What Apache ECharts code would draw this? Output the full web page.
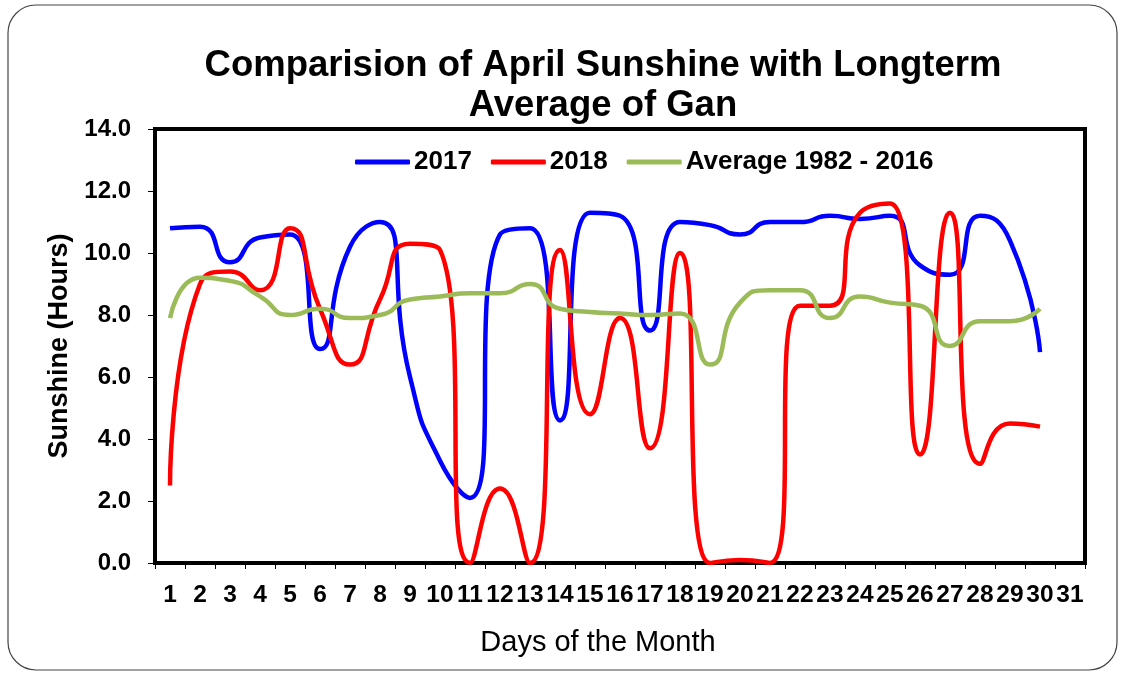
<!DOCTYPE html>
<html>
<head>
<meta charset="utf-8">
<title>April Sunshine - Gan</title>
<script src="https://cdn.jsdelivr.net/npm/echarts@6/dist/echarts.min.js"></script>
<style>
  html, body { margin: 0; padding: 0; background: #fff; }
  #chart { width: 1121px; height: 675px; }
</style>
</head>
<body>
<div id="chart"></div>
<script>
// days of the month (axis runs to 31, data only to 30)
const days = ['1','2','3','4','5','6','7','8','9','10','11','12','13','14','15','16','17','18','19','20','21','22','23','24','25','26','27','28','29','30','31']

const sun2017 = [10.8, 10.85, 9.7, 10.5, 10.6, 6.9, 10.2, 11.0, 6.0, 3.3, 2.1, 10.6, 10.8, 4.6, 11.3, 11.2, 7.5, 11.0, 10.9, 10.6, 11.0, 11.0, 11.2, 11.1, 11.2, 9.6, 9.3, 11.2, 10.4, 6.8]
const sun2018 = [2.5, 9.0, 9.4, 8.8, 10.8, 8.2, 6.4, 8.5, 10.3, 10.1, 0.0, 2.4, 0.0, 10.1, 4.8, 7.9, 3.7, 10.0, 0.0, 0.1, 0.0, 8.3, 8.3, 11.3, 11.6, 3.5, 11.3, 3.2, 4.5, 4.4]
const avg8216 = [7.9, 9.2, 9.1, 8.6, 8.0, 8.2, 7.9, 8.0, 8.5, 8.6, 8.7, 8.7, 9.0, 8.2, 8.1, 8.05, 8.0, 8.05, 6.4, 8.4, 8.8, 8.8, 7.9, 8.6, 8.4, 8.3, 7.0, 7.8, 7.8, 8.2]

const yTicks = [0, 2, 4, 6, 8, 10, 12, 14]

const font = 'Liberation Sans, Arial, sans-serif'

const chart = echarts.init(document.getElementById('chart'))

const line = (name, data, color) => ({
    name,
    type: 'line',
    data,
    smooth: 0.6,
    symbol: 'none',
    lineStyle: { color, width: 4.5 },
    itemStyle: { color },
})

chart.setOption({
    animation: false,
    graphic: [
        {
            type: 'rect',
            shape: { x: 8, y: 5, width: 1109, height: 665, r: 28 },
            style: { fill: 'none', stroke: '#444', lineWidth: 1.2 },
            silent: true,
        },
    ],
    title: {
        text: 'Comparision of April Sunshine with Longterm\nAverage of Gan',
        left: 598,
        top: 41,
        textAlign: 'center',
        textStyle: {
            fontFamily: font,
            fontWeight: 'bold',
            fontSize: 36.5,
            lineHeight: 40,
            color: '#000',
        },
    },
    legend: {
        left: 350,
        top: 144,
        icon: 'roundRect',
        itemWidth: 55,
        itemHeight: 5,
        itemGap: 19,
        textStyle: { fontFamily: font, fontWeight: 'bold', fontSize: 26, color: '#000', padding: [0, 0, 0, -1] },
        data: ['2017', '2018', 'Average 1982 - 2016'],
    },
    grid: {
        left: 155,
        right: 36,
        top: 129,
        bottom: 112,
        show: true,
        borderColor: '#000',
        borderWidth: 4,
        backgroundColor: '#fff',
    },
    xAxis: {
        type: 'category',
        data: days,
        boundaryGap: true,
        name: 'Days of the Month',
        nameLocation: 'middle',
        nameGap: 65,
        nameTextStyle: { fontFamily: font, fontSize: 29, color: '#000', padding: [0, 44, 0, 0] },
        axisLine: { lineStyle: { color: '#000', width: 4 } },
        axisTick: { show: true, length: 6, inside: false, lineStyle: { color: '#000', width: 1 }, interval: 0 },
        axisLabel: { interval: 0, fontFamily: font, fontWeight: 'bold', fontSize: 24.5, color: '#000', margin: 20 },
        splitLine: { show: false },
    },
    yAxis: {
        type: 'value',
        min: yTicks[0],
        max: yTicks[yTicks.length - 1],
        interval: 2,
        name: 'Sunshine (Hours)',
        nameLocation: 'middle',
        nameGap: 81,
        nameRotate: 90,
        nameTextStyle: { fontFamily: font, fontWeight: 'bold', fontSize: 27, color: '#000' },
        axisLine: { show: true, lineStyle: { color: '#000', width: 4 } },
        axisTick: { show: true, length: 7, lineStyle: { color: '#000', width: 1 } },
        axisLabel: {
            fontFamily: font,
            fontWeight: 'bold',
            fontSize: 24,
            color: '#000',
            margin: 24,
            formatter: (v) => v.toFixed(1),
        },
        splitLine: { show: false },
    },
    series: [
        line('2017', sun2017, '#0000ff'),
        line('2018', sun2018, '#ff0000'),
        line('Average 1982 - 2016', avg8216, '#9bbb59'),
    ],
})
</script>
</body>
</html>
